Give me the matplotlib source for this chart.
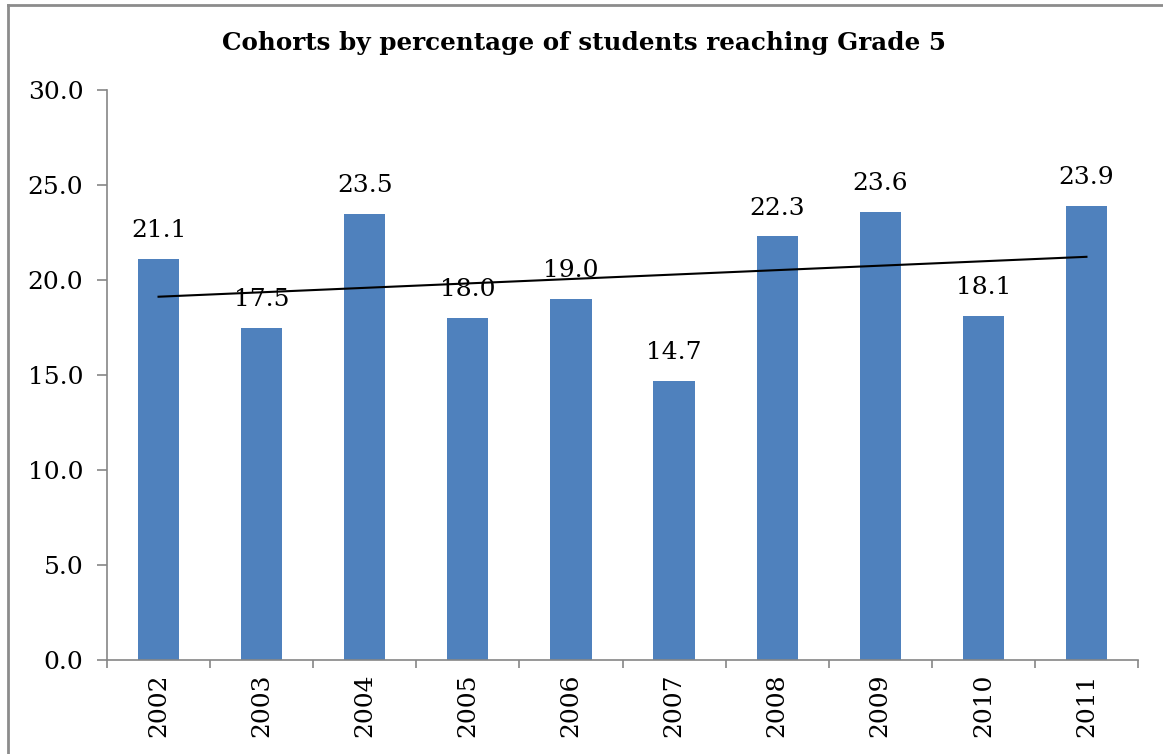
import numpy as np
import matplotlib.pyplot as plt
from matplotlib.lines import Line2D

years = ['2002', '2003', '2004', '2005', '2006', '2007', '2008', '2009', '2010', '2011']
pct = [21.1, 17.5, 23.5, 18.0, 19.0, 14.7, 22.3, 23.6, 18.1, 23.9]
yticks = [0, 5, 10, 15, 20, 25, 30]

plt.rcParams['font.family'] = ['DejaVu Serif']
axis_grey = '#868686'

W, H = 1163, 754
fig = plt.figure(figsize=(W / 100, H / 100), dpi=100)
ax = fig.add_axes([107 / W, (H - 660) / H, (1138 - 107) / W, 570 / H])

x = np.arange(len(years))
ax.bar(x, pct, width=0.4, color='#4F81BD', zorder=2)

# linear trend line over the bars
k, b = np.polyfit(x, pct, 1)
ax.plot(x, k * x + b, color='black', lw=1.5, zorder=3)

for xi, v in zip(x, pct):
    ax.annotate(f'{v:.1f}', (xi, v), xytext=(0, 12), textcoords='offset points',
                ha='center', va='bottom', fontsize=18, zorder=4)

ax.set_xlim(-0.5, len(years) - 0.5)
ax.set_ylim(0, 30)
ax.set_yticks(yticks)
ax.set_yticklabels([f'{t:.1f}' for t in yticks], fontsize=18)
ax.set_xticks(x)
ax.set_xticklabels(years, rotation=90, fontsize=18)
ax.set_xticks(np.arange(-0.5, len(years)), minor=True)
ax.tick_params(axis='x', which='major', length=0, pad=10)
ax.tick_params(axis='x', which='minor', length=6, color=axis_grey, width=1.2)
ax.tick_params(axis='y', length=7, color=axis_grey, width=1.2, pad=10)

for s in ['top', 'right']:
    ax.spines[s].set_visible(False)
for s in ['left', 'bottom']:
    ax.spines[s].set_color(axis_grey)
    ax.spines[s].set_linewidth(1.2)

fig.text(0.5 + 2 / W, 1 - 43 / H, 'Cohorts by percentage of students reaching Grade 5',
         ha='center', va='center', fontsize=17.7, fontweight='bold')

# chart frame (only left and top edges show)
fig.add_artist(Line2D([8 / W, 8 / W], [0, 1 - 5 / H], color='#8c8c8c', lw=2))
fig.add_artist(Line2D([8 / W, 1], [1 - 5 / H, 1 - 5 / H], color='#8c8c8c', lw=2))

fig.savefig('out.png', dpi=100)
